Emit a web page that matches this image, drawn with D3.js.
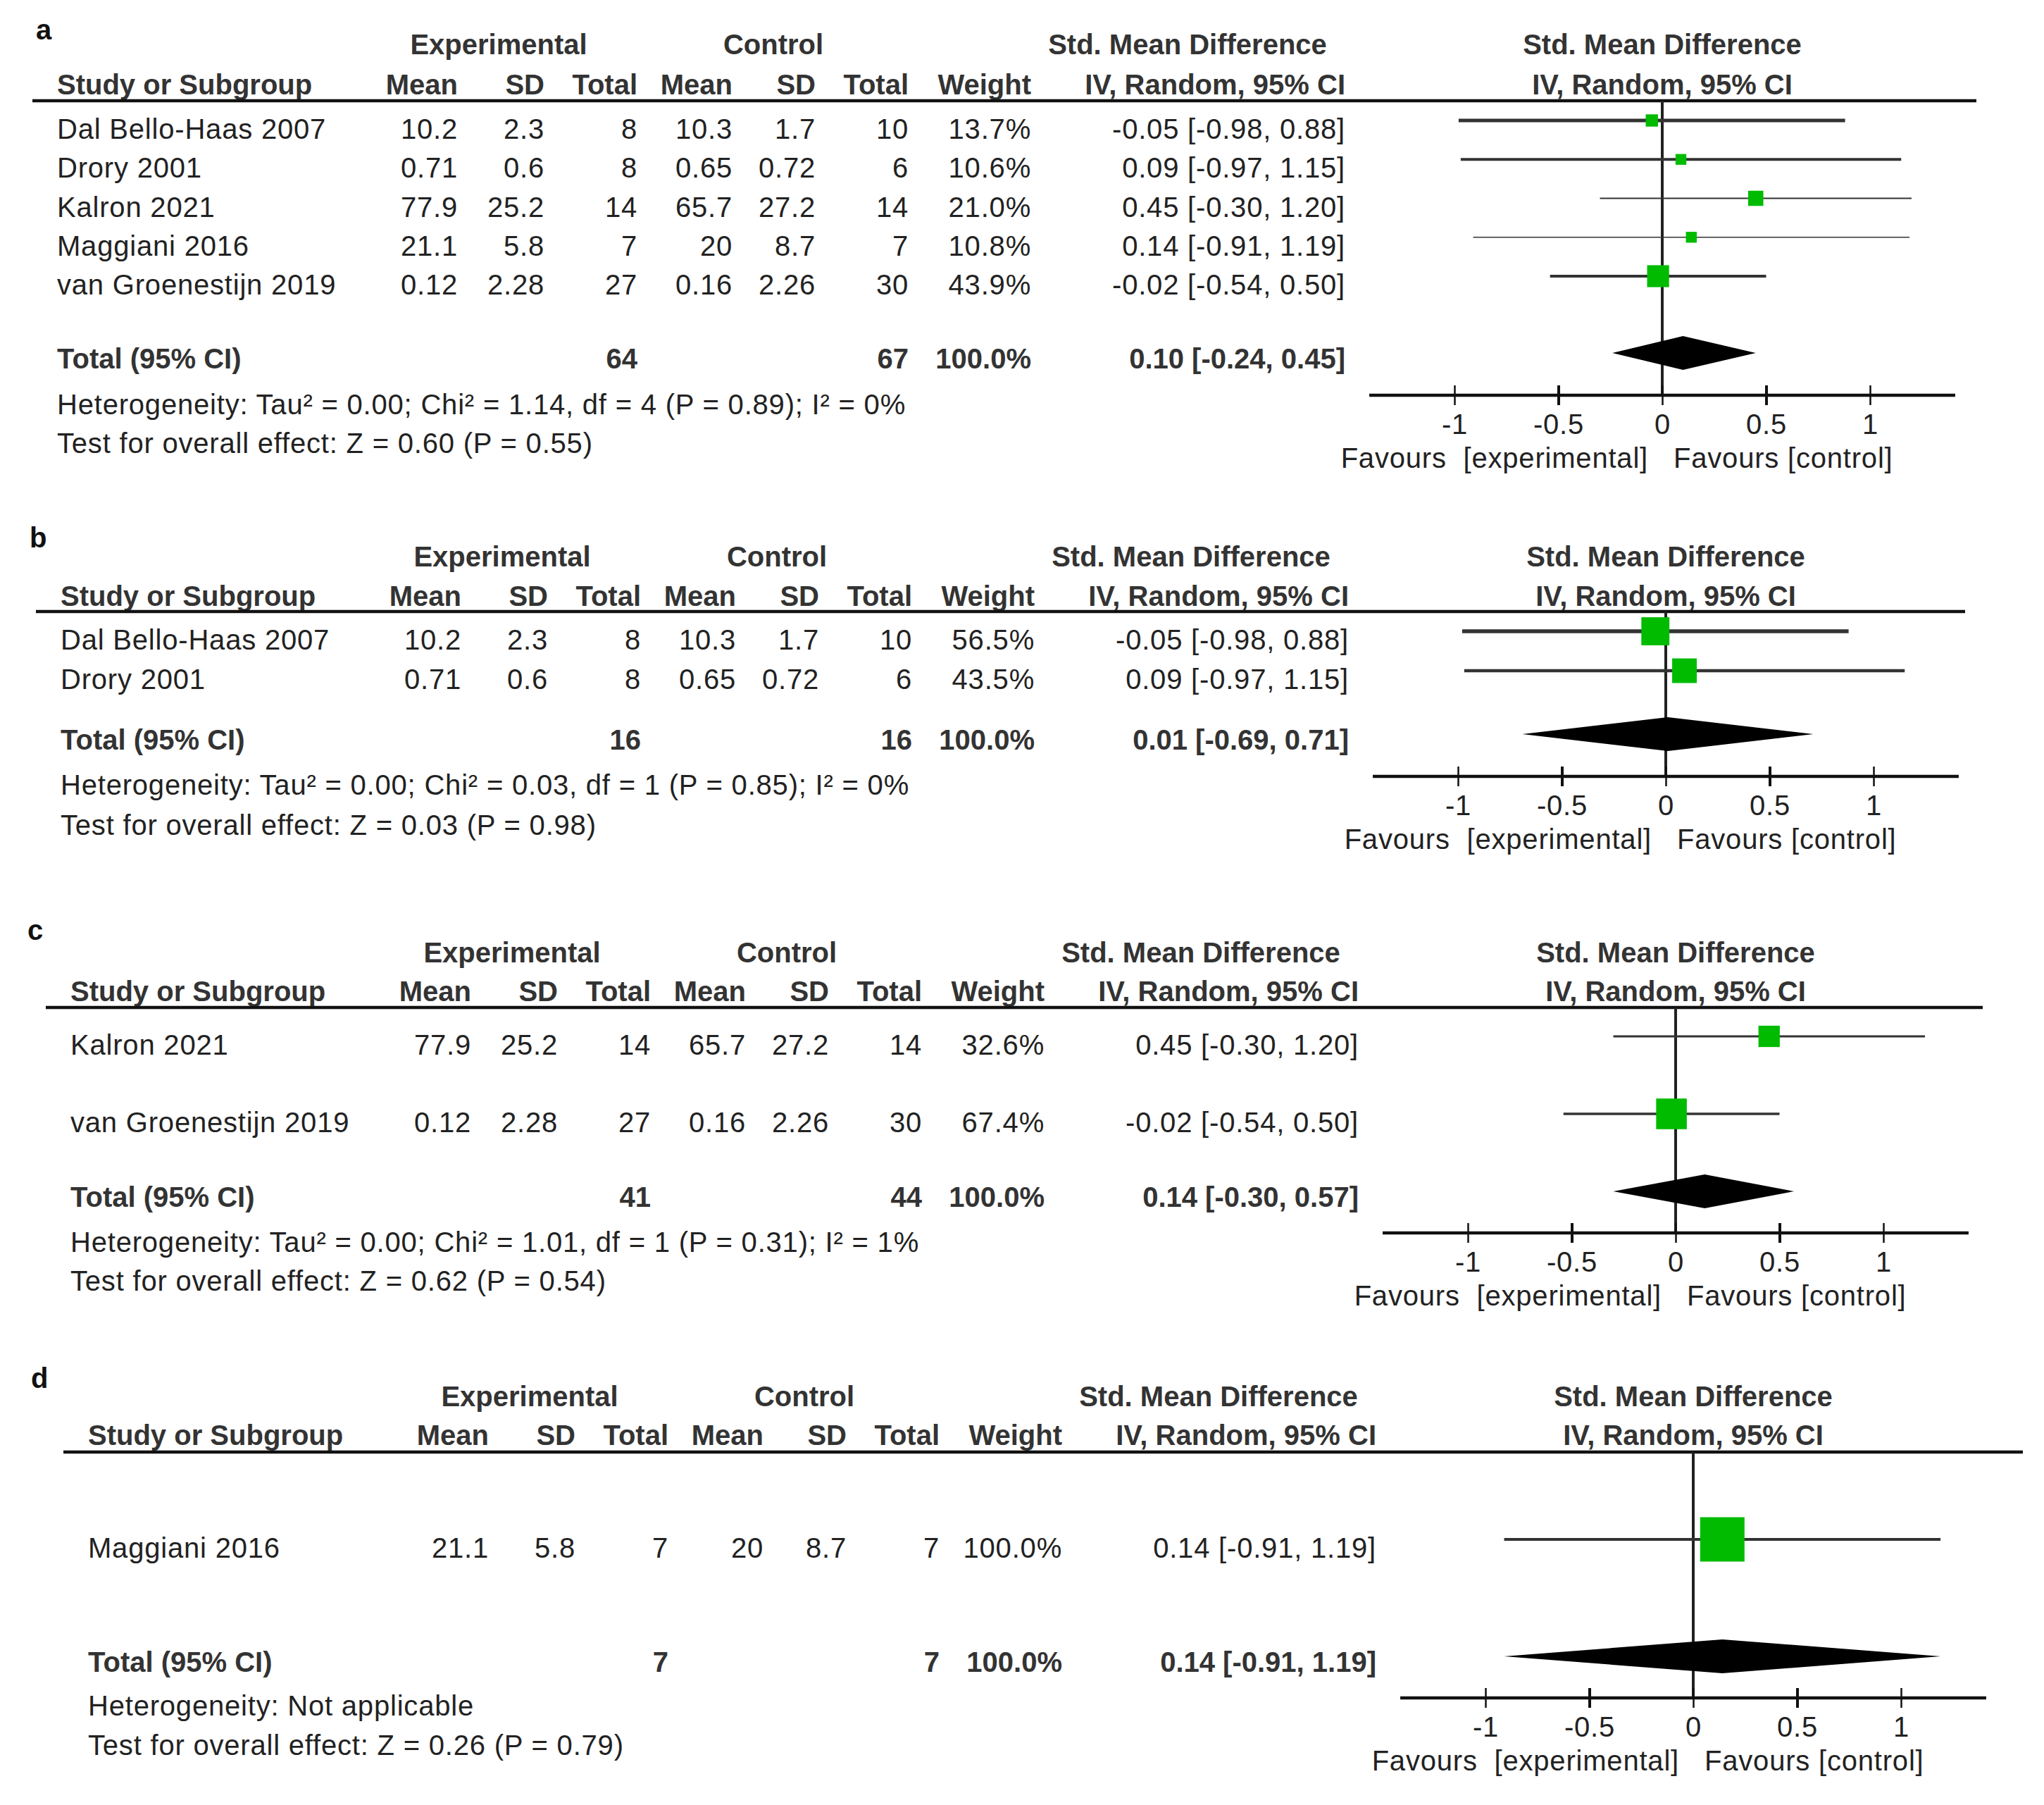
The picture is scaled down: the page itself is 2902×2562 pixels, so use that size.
<!DOCTYPE html>
<html>
<head>
<meta charset="utf-8">
<script src="https://cdn.jsdelivr.net/npm/d3@7"></script>
<style>
  body { margin: 0; background: #fff; }
  text { font-family: "Liberation Sans", Arial, sans-serif; font-size: 40px; fill: #222; letter-spacing: 0.8px; white-space: pre; }
  text.b { font-weight: bold; fill: #333; letter-spacing: 0; }
</style>
</head>
<body>
<svg id="chart" width="2902" height="2562"></svg>
<script>
// study level data (shared by all four panels)
const studies = ['Dal Bello-Haas 2007', 'Drory 2001', 'Kalron 2021', 'Maggiani 2016', 'van Groenestijn 2019'];
const expMean = [10.2, 0.71, 77.9, 21.1, 0.12];
const expSD = [2.3, 0.6, 25.2, 5.8, 2.28];
const expN = [8, 8, 14, 7, 27];
const ctlMean = [10.3, 0.65, 65.7, 20, 0.16];
const ctlSD = [1.7, 0.72, 27.2, 8.7, 2.26];
const ctlN = [10, 6, 14, 7, 30];
const smd = [-0.05, 0.09, 0.45, 0.14, -0.02];
const ciLow = [-0.98, -0.97, -0.30, -0.91, -0.54];
const ciHigh = [0.88, 1.15, 1.20, 1.19, 0.50];

// panels
const panelLabels = ['a', 'b', 'c', 'd'];
const panelStudies = [[0, 1, 2, 3, 4], [0, 1], [2, 4], [3]];
const panelWeights = [[13.7, 10.6, 21.0, 10.8, 43.9], [56.5, 43.5], [32.6, 67.4], [100.0]];
const totalExpN = [64, 16, 41, 7];
const totalCtlN = [67, 16, 44, 7];
const totalSmd = [0.10, 0.01, 0.14, 0.14];
const totalLow = [-0.24, -0.69, -0.30, -0.91];
const totalHigh = [0.45, 0.71, 0.57, 1.19];
const heterogeneity = [
  'Heterogeneity: Tau² = 0.00; Chi² = 1.14, df = 4 (P = 0.89); I² = 0%',
  'Heterogeneity: Tau² = 0.00; Chi² = 0.03, df = 1 (P = 0.85); I² = 0%',
  'Heterogeneity: Tau² = 0.00; Chi² = 1.01, df = 1 (P = 0.31); I² = 1%',
  'Heterogeneity: Not applicable'
];
const overallTest = [
  'Test for overall effect: Z = 0.60 (P = 0.55)',
  'Test for overall effect: Z = 0.03 (P = 0.98)',
  'Test for overall effect: Z = 0.62 (P = 0.54)',
  'Test for overall effect: Z = 0.26 (P = 0.79)'
];
const tickValues = [-1, -0.5, 0, 0.5, 1];
const headers = ['Mean', 'SD', 'Total', 'Mean', 'SD', 'Total', 'Weight', 'IV, Random, 95% CI'];

// layout of each panel (pixel positions and line widths only)
const layouts = [
  {dx: 0,  dy: 0,  labelX: 51, label: 42,   title: 63,   head: 120,  rule: 143,  rowFirst: 183,  rowLast: 404,  total: 509,  het: 574,  test: 629,  axis: 561,  ruleX2: 2806, box: 4.7, ciW: [5, 4, 2, 1.5, 4]},
  {dx: 5,  dy: -4, labelX: 42, label: 763,  title: 794,  head: 850,  rule: 872,  rowFirst: 912,  rowLast: 968,  total: 1054, het: 1118, test: 1175, axis: 1106, ruleX2: 2785, box: 5.3, ciW: [5.5, 4.5]},
  {dx: 19, dy: -6, labelX: 39, label: 1320, title: 1358, head: 1413, rule: 1436, rowFirst: 1489, rowLast: 1599, total: 1705, het: 1769, test: 1824, axis: 1756, ruleX2: 2796, box: 5.3, ciW: [3, 3.5]},
  {dx: 44, dy: -8, labelX: 44, label: 1956, title: 1990, head: 2045, rule: 2069, rowFirst: 2205, rowLast: 2205, total: 2367, het: 2429, test: 2485, axis: 2418, ruleX2: 2828, box: 6.3, ciW: [4]}
];

const studyX = 81;
const colRight = [650, 773, 905, 1040, 1158, 1290, 1464, 1910];
const zeroX = 2360, unit = 295;
const base = 14; // cap middle -> baseline

const svg = d3.select('#chart');
const f2 = d => d.toFixed(2);
const ciText = (m, l, h) => `${f2(m)} [${f2(l)}, ${f2(h)}]`;

layouts.forEach((L, p) => {
  const g = svg.append('g').attr('transform', `translate(${L.dx},${L.dy})`);
  const label = (t, tx, ty, anchor, bold) => g.append('text')
      .attr('x', tx).attr('y', ty + base)
      .attr('text-anchor', anchor)
      .attr('class', bold ? 'b' : null)
      .text(t);

  svg.append('text').attr('class', 'b').attr('x', L.labelX).attr('y', L.label + base)
    .style('fill', '#111').text(panelLabels[p]);

  const x = d3.scaleLinear().domain([-1, 1]).range([zeroX - unit, zeroX + unit]);
  const ids = panelStudies[p];
  const y = d3.scalePoint().domain(ids).range([L.rowFirst, L.rowLast]);

  // titles
  label('Experimental', 708, L.title, 'middle', true);
  label('Control', 1098, L.title, 'middle', true);
  label('Std. Mean Difference', 1686, L.title, 'middle', true);
  label('Std. Mean Difference', x(0), L.title, 'middle', true);

  label('Study or Subgroup', studyX, L.head, 'start', true);
  headers.forEach((h, i) => label(h, colRight[i], L.head, 'end', true));
  label('IV, Random, 95% CI', x(0), L.head, 'middle', true);

  g.append('line').attr('x1', 46).attr('x2', L.ruleX2)
    .attr('y1', L.rule).attr('y2', L.rule)
    .attr('stroke', '#111').attr('stroke-width', 4.5);

  // rows
  ids.forEach((s, k) => {
    const ry = y(s);
    label(studies[s], studyX, ry, 'start', false);
    const cells = [expMean[s], expSD[s], expN[s], ctlMean[s], ctlSD[s], ctlN[s],
      panelWeights[p][k].toFixed(1) + '%', ciText(smd[s], ciLow[s], ciHigh[s])];
    cells.forEach((c, i) => label(String(c), colRight[i], ry, 'end', false));
  });

  // totals
  label('Total (95% CI)', studyX, L.total, 'start', true);
  label(String(totalExpN[p]), colRight[2], L.total, 'end', true);
  label(String(totalCtlN[p]), colRight[5], L.total, 'end', true);
  label('100.0%', colRight[6], L.total, 'end', true);
  label(ciText(totalSmd[p], totalLow[p], totalHigh[p]), colRight[7], L.total, 'end', true);
  label(heterogeneity[p], studyX, L.het, 'start', false);
  label(overallTest[p], studyX, L.test, 'start', false);

  // zero line
  g.append('line').attr('x1', x(0)).attr('x2', x(0))
    .attr('y1', L.rule).attr('y2', L.axis)
    .attr('stroke', '#222').attr('stroke-width', 4);

  // CI lines and boxes
  const side = k => L.box * Math.sqrt(panelWeights[p][k]);
  const marks = g.selectAll('g.study').data(ids).enter().append('g').attr('class', 'study');
  marks.append('line')
    .attr('x1', s => x(ciLow[s])).attr('x2', s => x(ciHigh[s]))
    .attr('y1', s => y(s) - 12).attr('y2', s => y(s) - 12)
    .attr('stroke', '#333').attr('stroke-width', (s, k) => L.ciW[k]);
  marks.append('rect')
    .attr('width', (s, k) => side(k))
    .attr('height', (s, k) => side(k))
    .attr('x', (s, k) => x(smd[s]) - side(k) / 2)
    .attr('y', (s, k) => y(s) - 12 - side(k) / 2)
    .attr('fill', '#00bb00');

  // pooled diamond
  const dmy = L.total - 8;
  g.append('path')
    .attr('d', d3.line()([[x(totalLow[p]), dmy], [x(totalSmd[p]), dmy - 24],
      [x(totalHigh[p]), dmy], [x(totalSmd[p]), dmy + 24]]) + 'Z')
    .attr('fill', '#000');

  // axis
  g.append('line').attr('x1', x(-1.41)).attr('x2', x(1.41))
    .attr('y1', L.axis).attr('y2', L.axis)
    .attr('stroke', '#111').attr('stroke-width', 4.5);
  const ax = g.append('g').attr('transform', `translate(0,${L.axis})`)
    .call(d3.axisBottom(x).tickValues(tickValues).tickFormat(d => String(d)));
  ax.attr('font-size', null).attr('font-family', null);
  ax.select('.domain').remove();
  ax.selectAll('.tick line').attr('y1', -14).attr('y2', 14)
    .attr('stroke', '#111').attr('stroke-width', (d, i) => i % 2 ? 4 : 2.5);
  ax.selectAll('.tick text').attr('dy', null).attr('y', 41 + base);

  label('Favours  [experimental]', x(0) - 20, L.axis + 89, 'end', false);
  label('Favours [control]', x(0) + 16, L.axis + 89, 'start', false);
});
</script>
</body>
</html>
